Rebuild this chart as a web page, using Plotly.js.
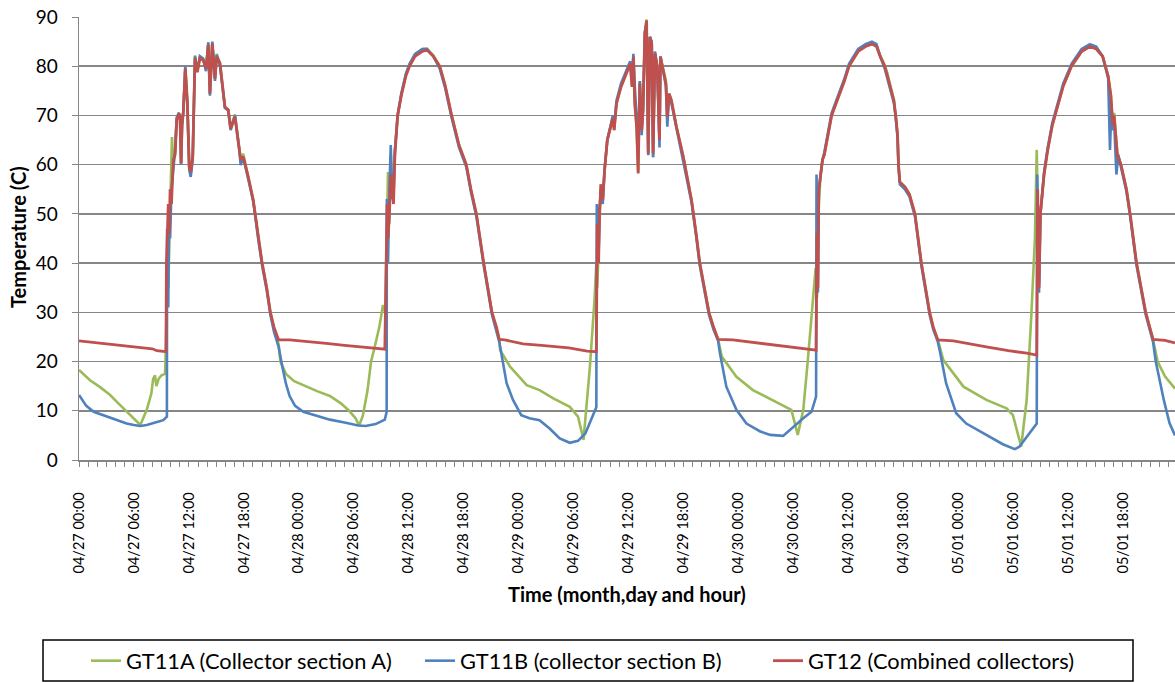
<!DOCTYPE html>
<html>
<head>
<meta charset="utf-8">
<script src="https://cdn.plot.ly/plotly-3.0.1.min.js"></script>
<style>
html,body{margin:0;padding:0;background:#fff;}
#chart{width:1175px;height:683px;}
</style>
</head>
<body>
<div id="chart"></div>
<script>
// Hours elapsed since 04/27 00:00
const tickLabels = ["04/27 00:00","04/27 06:00","04/27 12:00","04/27 18:00","04/28 00:00","04/28 06:00","04/28 12:00","04/28 18:00","04/29 00:00","04/29 06:00","04/29 12:00","04/29 18:00","04/30 00:00","04/30 06:00","04/30 12:00","04/30 18:00","05/01 00:00","05/01 06:00","05/01 12:00","05/01 18:00"];
const tickHours = [0,6,12,18,24,30,36,42,48,54,60,66,72,78,84,90,96,102,108,114];

const seriesNames = ["GT11A (Collector section A)","GT11B (collector section B)","GT12 (Combined collectors)"];

// GT11A
const tA = [0,1.2,2.3,3.4,4.3,5.2,6.0,6.7,7.4,7.9,8.1,8.3,8.45,8.7,9.0,9.4,9.5,9.65,9.75,10.15,10.3,10.5,10.67,10.9,11.03,11.15,11.25,11.39,11.61,11.83,12.04,12.2,12.42,12.67,12.92,13.21,13.57,13.87,14.12,14.3,14.56,14.85,15.04,15.4,15.94,16.3,16.56,17.03,17.5,17.66,17.94,18.49,19.03,19.6,20.0,20.5,20.9,21.3,21.8,22.0,22.6,23.5,24.7,26,27.4,28.6,29.5,30.2,30.6,31.0,31.5,31.9,32.3,32.8,33.2,33.45,33.6,33.75,33.9,34.05,34.2,34.35,34.5,34.8,35.2,35.7,36.1,36.7,37.5,38.0,38.7,39.4,40.0,40.7,41.5,42.3,42.8,43.4,44.2,45.1,45.9,46.0,47.1,48.9,50.3,51.8,53.6,54.5,55.1,55.8,56.3,56.5,56.6,56.85,57.0,57.2,57.4,57.7,58.3,58.45,58.7,59.2,59.8,60.2,60.4,60.55,60.7,60.9,61.07,61.25,61.45,61.6,61.8,61.99,62.17,62.35,62.55,62.7,62.9,63.15,63.4,63.5,63.8,64.1,64.25,64.45,64.7,65.25,66.0,66.9,67.4,67.8,68.3,68.8,69.3,69.8,70.2,71.8,73.6,76.2,77.8,78.5,79.1,79.6,80.2,80.45,80.6,80.8,81.0,81.2,81.4,81.8,82.2,82.8,83.6,84.1,85.1,85.9,86.6,87.1,87.5,88.0,88.3,89.0,89.2,89.4,89.5,89.65,90.2,90.7,91.3,92.0,92.9,93.3,93.8,94.4,96.6,99.1,101.3,102.0,102.9,103.5,104.0,104.4,104.6,104.75,104.85,105.0,105.4,105.8,106.3,106.9,107.5,108.4,109.5,110.4,111.1,111.8,112.4,112.7,112.9,113.05,113.4,113.8,114.4,114.8,115.5,116.5,116.9,117.3,117.8,118.6,119.7];
const vA = [18.3,16.2,14.8,13.2,11.5,9.8,8.5,7.1,10.2,13.5,16.5,17.2,15,16.5,17.2,17.5,24,42,35,65.6,60,63,69.5,70.5,70,60.3,68,70.8,79.5,72.5,59.5,58,61.5,82.2,79,82,81.5,79.3,84.9,74.5,84.7,77.5,82.5,80.5,71.7,71.2,67.5,70.2,63.5,61,62.2,57.5,52.8,45,40,35,30,26.5,23.5,20,17.5,16,15,14,13,11.5,10,8.5,7.0,9,14,20,23,27,31.5,30,45,58.5,48,62,56,53,62.5,70,74.2,78.2,80.3,82.3,83.5,83.6,82.2,80,76,70,64,60,55,50,40,30,24.5,22.3,18.9,15.2,14.2,12.5,10.8,8.8,4.1,18.9,32.5,40,35,50,56,53,59,65,69.5,67,72.5,76,78.5,80.5,76,82,72.5,67.7,58.5,77,67,71.1,86.8,89.5,62,86,84.6,61.5,82.8,80,65,82,79.5,77,70,74.5,73,67.7,61.6,52.8,46,40,35,30,27,24.5,21,16.9,14.2,11.8,10.2,5.1,10.2,20.3,32.5,39,33,52,58,61,62,66,70,73.2,77.2,80.2,83.2,84.2,84.6,84.2,82.2,80.2,78.5,73.2,70,66,60,56.5,55.5,54,50,40,30,27,24.4,20.3,14.9,12.2,10.5,9.1,2.7,12.2,29.1,45,63,50,36,50,58,63,68,72,76,80,83,84,83.6,82,78,74,68.5,70.5,62.5,60,55,50,40,30,27,24.5,20,17,14.5];

// GT11B
const tB = [0,0.8,1.6,2.5,3.4,4.3,5.2,6.0,6.7,7.4,8.1,8.7,9.2,9.6,9.62,9.75,9.85,9.95,10.1,10.3,10.5,10.67,10.9,11.03,11.15,11.25,11.39,11.61,11.83,12.04,12.2,12.42,12.67,12.92,13.21,13.57,13.87,14.12,14.3,14.56,14.85,15.04,15.4,15.94,16.3,16.56,17.03,17.5,17.66,17.94,18.49,19.03,19.6,20.0,20.5,20.9,21.3,21.8,22.2,22.6,23.0,23.6,24.5,25.5,27.4,29,30.5,31.3,32.4,33.4,33.6,33.62,33.75,33.9,34.05,34.2,34.35,34.5,34.8,35.2,35.7,36.1,36.7,37.5,38.0,38.7,39.4,40.0,40.7,41.5,42.3,42.8,43.4,44.2,45.1,45.9,46.3,46.7,47.4,48.3,49.2,50.3,51.4,52.5,53.6,54.5,55.3,56.5,56.55,56.75,56.85,57.0,57.2,57.4,57.7,58.3,58.45,58.7,59.2,59.8,60.2,60.4,60.55,60.7,60.9,61.07,61.25,61.45,61.6,61.8,61.99,62.17,62.35,62.55,62.7,62.9,63.15,63.4,63.5,63.8,64.1,64.25,64.45,64.7,65.25,66.0,66.9,67.4,67.8,68.3,68.8,69.3,69.8,70.0,70.7,71.8,72.9,74.4,75.5,76.9,77.8,79.1,80.0,80.5,80.55,80.7,80.8,81.0,81.2,81.4,81.8,82.2,82.8,83.6,84.1,85.1,85.9,86.6,87.1,87.5,88.0,88.3,89.0,89.2,89.4,89.5,89.65,90.2,90.7,91.3,92.0,92.9,93.3,93.8,94.0,94.7,95.8,96.9,99.1,100.9,102.2,102.7,104.6,104.65,104.85,105.0,105.4,105.8,106.3,106.9,107.5,108.4,109.5,110.4,111.1,111.8,112.4,112.6,112.75,112.9,113.05,113.3,113.5,113.8,114.4,114.8,115.5,116.5,116.9,117.3,117.6,118.5,119.1,119.7];
const vB = [13.2,11,9.8,9.2,8.5,8.0,7.4,7.1,6.9,7.1,7.4,7.8,8.1,8.8,47,31,52,45,55,60,63,69.5,70.5,70,60,68,70.8,80,72,59,57.5,61,82,79,82,81.5,79,84.8,74,85,77,82.3,80,71.5,71,67,70,63,59.9,61.5,57,52.5,44.5,39.5,34.5,29.5,26,23,19,15.5,13,11,9.8,9.2,8.2,7.6,7.0,6.9,7.3,8.2,9.8,53,40,55,64,53,55,63,70,74.5,78.5,80.5,82.5,83.5,83.5,82,79.5,75.5,69.5,63.5,59.5,54.5,49.5,39.5,29.5,24,19.6,15.6,12.2,9.1,8.5,8.1,6.4,4.4,3.5,3.9,5.4,10.7,52,42,51,55,52,59,65,70,67.5,73,76.5,79,81,78,82.5,76,68,64,77,66,71,87,88.5,61.9,86,85,61.5,83,80,63.5,82,79,76,67.7,74,72.5,67.5,61,52.3,45.5,39.5,34.5,29.5,26.5,24.2,21.7,14.9,10.2,7.4,5.8,5.1,4.9,6.4,8.5,9.8,12.9,58,34,55,58,61,62.5,66.5,70.5,73.5,77.5,80.5,83.5,84.5,85,84.5,82,79.5,77.5,72.5,69.5,65.5,59.5,56,55,53.5,49.5,39.5,29.5,26.5,24,22.3,15.6,9.5,7.4,5.1,3.2,2.2,2.7,7.4,58,34,50,58.5,63.5,68.5,72.5,76.5,80.5,83.5,84.5,84,82,77.5,63,72,67,69,58,62,59.5,54.5,49.5,39.5,29.5,26.5,24,20,12,7.5,5];

// GT12
const tC = [0,2,4,6,8,8.5,9.5,9.55,9.65,9.75,9.85,9.95,10.1,10.3,10.5,10.67,10.9,11.03,11.15,11.25,11.39,11.61,11.83,12.04,12.2,12.42,12.67,12.92,13.21,13.57,13.87,14.12,14.3,14.56,14.85,15.04,15.4,15.94,16.3,16.56,17.03,17.5,17.66,17.94,18.49,19.03,19.6,20.0,20.5,20.9,21.3,21.8,23,25,27,29,31,33.4,33.55,33.65,33.75,33.9,34.05,34.2,34.35,34.5,34.8,35.2,35.7,36.1,36.7,37.5,38.0,38.7,39.4,40.0,40.7,41.5,42.3,42.8,43.4,44.2,45.1,45.6,45.9,46.5,48.5,50.5,53.5,55.5,56.5,56.6,56.75,56.85,57.0,57.2,57.4,57.7,58.3,58.45,58.7,59.2,59.8,60.2,60.4,60.55,60.7,60.9,61.07,61.25,61.45,61.6,61.8,61.99,62.17,62.35,62.55,62.7,62.9,63.15,63.4,63.5,63.8,64.1,64.25,64.45,64.7,65.25,66.0,66.9,67.4,67.8,68.3,68.8,69.3,69.8,71.4,73.5,75.5,78,80.5,80.6,80.7,80.8,81.0,81.2,81.4,81.8,82.2,82.8,83.6,84.1,85.1,85.9,86.6,87.1,87.5,88.0,88.3,89.0,89.2,89.4,89.5,89.65,90.2,90.7,91.3,92.0,92.9,93.3,93.8,95.5,99.1,101.5,103.5,104.6,104.7,104.85,105.0,105.4,105.8,106.3,106.9,107.5,108.4,109.5,110.4,111.1,111.8,112.4,112.7,112.9,113.05,113.4,113.8,114.4,114.8,115.5,116.5,116.9,117.3,118.6,119.7];
const vC = [24.2,23.8,23.3,23.0,22.6,22.2,22.0,40,50,52,46,55,52,61,62,69,70.2,70,60.3,68,70.5,79.5,73,59.6,58.5,61.6,81.6,78.8,81.6,81.2,79.5,84.3,74.4,84.6,77.5,81.9,80.6,71.7,71.1,67.3,69.7,63.6,61,61.6,57.5,52.8,45,40,35,30,27,24.4,24.4,24.1,23.7,23.3,22.9,22.5,40,52,45,50,58,55,52,62,70,74,78,80,82,83,83.3,82,80,76,70,64,60,55,50,40,30,27,24.5,24.4,23.6,23.3,22.8,22.1,22.0,48,40,50,56,52.8,58.9,65,69.4,67,72.4,75.8,78.5,80.5,75.8,81.9,72.4,67.7,58.2,76.5,67,71.1,86.6,89.3,62.3,85.9,84.6,62.3,82.6,79.9,65,81.9,79.2,76.5,69.7,74.4,73.1,67.7,61.6,52.8,46,40,35,30,27,24.5,24.4,23.9,23.4,22.9,22.3,46,35,55,58,61,62,66,70,73,77,80,83,84,84.5,84,82,80,78,73,70,66,60,56.5,55.5,54,50,40,30,27,24.4,24.2,23.0,22.2,21.7,21.3,55,35,50,58,63,68,72,76,80,83,84,83.5,82,78,74,68,70,62,60,55,50,40,30,27,24.5,24.3,23.8];

const colors = ["#9BBB59","#4F81BD","#C0504D"];
const FONT = "Lato, 'Open Sans', sans-serif";

const PLOT_L = 79, PLOT_W = 1096, PLOT_T = 17, PLOT_H = 443;
const px2x = p => (p - PLOT_L) / PLOT_W;
const px2y = p => (PLOT_T + PLOT_H - p) / PLOT_H;

const traces = [
  {x: tA, y: vA, name: seriesNames[0], legend: "legend", type: "scatter", mode: "lines", line: {color: colors[0], width: 2.6}},
  {x: tB, y: vB, name: seriesNames[1], legend: "legend2", type: "scatter", mode: "lines", line: {color: colors[1], width: 2.6}},
  {x: tC, y: vC, name: seriesNames[2], legend: "legend3", type: "scatter", mode: "lines", line: {color: colors[2], width: 2.8}}
];

const legendBase = (xpx) => ({
  orientation: "h", x: px2x(xpx), xanchor: "left",
  y: px2y(661), yanchor: "middle",
  font: {size: 21.8, family: FONT, color: "#000"},
  bgcolor: "rgba(0,0,0,0)", borderwidth: 0
});

const layout = {
  width: 1175, height: 683,
  margin: {l: PLOT_L, r: 0, t: PLOT_T, b: 223},
  paper_bgcolor: "#ffffff", plot_bgcolor: "#ffffff",
  font: {family: FONT, color: "#000"},
  showlegend: true,
  xaxis: {
    range: [0, 119.7], type: "linear",
    tickmode: "array", tickvals: tickHours, ticktext: tickLabels,
    tickangle: -90, tickfont: {size: 14.5, family: FONT, color: "#000"},
    ticks: "outside", ticklen: 5, tickcolor: "#868686", tickwidth: 1,
    ticklabelstandoff: 20,
    minor: {dtick: 1, ticks: "outside", ticklen: 5, tickcolor: "#868686", tickwidth: 1, showgrid: false},
    showgrid: false, zeroline: false,
    showline: true, linecolor: "#868686", linewidth: 1.5,
    automargin: false
  },
  yaxis: {
    range: [0, 90], dtick: 10, tick0: 0,
    tickfont: {size: 19, family: FONT, color: "#000"},
    ticks: "outside", ticklen: 6, tickcolor: "#868686",
    ticklabelstandoff: 10,
    showgrid: true, gridcolor: "#868686", gridwidth: 1.5,
    zeroline: false, showline: true, linecolor: "#868686", linewidth: 1.5,
    automargin: false
  },
  legend: legendBase(86),
  legend2: legendBase(420),
  legend3: legendBase(768),
  shapes: [
    {type: "rect", xref: "paper", yref: "paper",
     x0: px2x(43), x1: px2x(1133),
     y0: px2y(681), y1: px2y(640),
     line: {color: "#000", width: 1.5}, fillcolor: "rgba(0,0,0,0)"}
  ],
  annotations: [
    {text: "<b>Time (month,day and hour)</b>", xref: "paper", yref: "paper",
     x: px2x(627), y: px2y(594), xanchor: "center", yanchor: "middle",
     showarrow: false, font: {size: 20, family: FONT, color: "#000"}},
    {text: "<b>Temperature (C)</b>", xref: "paper", yref: "paper",
     x: px2x(18), y: px2y(237), xanchor: "center", yanchor: "middle",
     textangle: -90, showarrow: false, font: {size: 20, family: FONT, color: "#000"}}
  ]
};

Plotly.newPlot("chart", traces, layout, {displayModeBar: false, staticPlot: true});
</script>
</body>
</html>
